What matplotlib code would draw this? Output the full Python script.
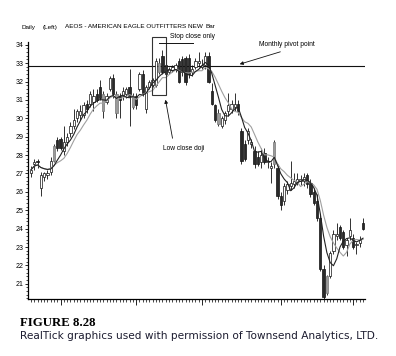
import matplotlib
matplotlib.use("Agg")
from matplotlib import pyplot as plt
from matplotlib.transforms import Affine2D
from matplotlib.ticker import MultipleLocator
import pandas as pd

# daily bars, AEOS
opens = [27.0, 27.5, 27.7, 26.2, 26.8, 26.9, 27.1, 27.7, 28.8, 28.9,
         28.2, 28.7, 29.2, 29.6, 30.0, 30.2, 30.2, 30.8, 30.8, 30.9,
         31.3, 31.7, 31.3, 30.9, 31.6, 32.2, 31.3, 31.2, 31.2, 31.3,
         31.7, 31.2, 31.2, 31.6, 32.4, 30.5, 31.7, 31.8, 31.8, 33.0,
         33.4, 32.9, 32.5, 32.6, 32.7, 33.1, 33.2, 33.3, 33.3, 32.5,
         32.8, 33.0, 32.8, 32.9, 33.4, 31.5, 30.7, 30.3, 29.6, 29.9,
         30.4, 30.5, 30.6, 30.8, 29.3, 28.6, 28.8, 28.6, 28.2, 27.9,
         27.6, 28.1, 27.6, 27.3, 27.5, 27.3, 25.8, 25.5, 26.1, 26.3,
         26.4, 26.5, 26.6, 26.6, 26.9, 26.5, 26.0, 25.5, 24.6, 21.8,
         20.5, 21.4, 22.8, 23.6, 24.1, 23.8, 23.1, 23.6, 23.5, 23.1,
         23.2, 24.3]
highs = [27.4, 27.8, 27.8, 27.1, 27.1, 27.2, 27.9, 28.6, 29.0, 29.0,
         29.6, 29.2, 29.8, 30.5, 30.5, 30.7, 30.9, 31.0, 31.5, 31.6,
         31.6, 32.1, 31.5, 31.4, 32.3, 32.4, 31.5, 31.4, 31.7, 31.7,
         32.7, 31.4, 31.4, 32.5, 32.6, 31.8, 32.1, 32.2, 33.3, 33.3,
         33.7, 33.1, 32.8, 32.9, 33.0, 33.3, 33.4, 33.4, 33.5, 32.9,
         33.3, 33.6, 33.2, 33.6, 33.6, 31.9, 30.8, 30.5, 30.1, 30.4,
         31.4, 31.0, 31.4, 31.0, 29.5, 28.8, 29.5, 28.9, 28.5, 28.2,
         28.4, 28.4, 27.9, 27.6, 28.8, 27.5, 26.0, 26.5, 26.6, 27.7,
         27.0, 27.0, 26.9, 27.0, 27.0, 26.7, 26.2, 25.9, 24.8, 22.0,
         21.5, 22.8, 23.9, 24.3, 24.2, 23.9, 23.5, 24.6, 23.7, 23.3,
         23.6, 24.6]
lows = [26.8, 27.2, 27.3, 25.8, 26.6, 26.7, 26.9, 27.6, 28.2, 28.3,
        28.0, 28.5, 29.0, 29.4, 29.8, 29.9, 30.0, 30.3, 30.6, 30.4,
        30.9, 31.0, 30.0, 30.8, 31.5, 31.1, 30.0, 30.0, 31.0, 31.1,
        29.6, 30.5, 30.5, 31.5, 31.2, 30.3, 31.6, 31.7, 31.7, 32.4,
        32.4, 32.3, 32.4, 32.5, 32.5, 31.9, 32.3, 31.8, 32.2, 32.3,
        32.7, 32.8, 32.7, 32.7, 31.9, 30.7, 29.8, 29.6, 29.5, 29.7,
        30.1, 30.3, 30.4, 30.2, 27.5, 27.7, 28.6, 28.4, 27.3, 27.4,
        27.3, 27.5, 27.3, 26.5, 27.3, 25.6, 25.0, 25.3, 25.9, 26.1,
        26.2, 26.4, 26.4, 26.3, 26.2, 25.7, 25.3, 24.4, 21.7, 20.2,
        20.4, 21.3, 22.6, 23.4, 23.4, 22.9, 22.5, 23.4, 22.9, 22.6,
        23.0, 23.9]
closes = [27.2, 27.6, 27.6, 26.9, 27.0, 27.0, 27.7, 28.5, 28.4, 28.4,
          28.7, 29.0, 29.6, 29.9, 30.4, 30.4, 30.7, 30.5, 31.3, 31.2,
          31.0, 31.1, 30.4, 31.2, 32.2, 31.3, 30.3, 31.0, 31.5, 31.6,
          31.2, 30.6, 30.7, 32.4, 31.4, 31.7, 32.0, 32.1, 33.1, 32.5,
          32.5, 32.4, 32.7, 32.8, 32.9, 32.0, 32.5, 32.0, 32.4, 32.7,
          33.1, 33.1, 32.9, 33.4, 32.0, 30.8, 29.9, 29.7, 30.0, 30.3,
          30.7, 30.8, 30.8, 30.4, 27.7, 27.8, 29.3, 28.7, 27.5, 27.5,
          28.0, 27.6, 27.7, 27.4, 28.7, 25.8, 25.3, 26.3, 26.4, 26.5,
          26.6, 26.7, 26.7, 26.8, 26.4, 25.9, 25.4, 24.6, 21.8, 20.3,
          21.4, 22.7, 23.7, 23.7, 23.5, 23.0, 23.4, 23.9, 23.0, 23.1,
          23.4, 24.0]
gray_bars = [7, 22, 26, 31, 39, 57, 74, 90]
month_starts = [9, 32, 52, 76, 98]
pivot = 32.86
y_ticks = list(range(21, 35))

W, H = 396, 356
fig = plt.figure(figsize=(W / 100, H / 100), dpi=100)
plt.rcParams['font.family'] = ['Liberation Sans', 'DejaVu Sans']
# pixel coordinates of the page (origin top left)
pix = Affine2D().scale(1 / W, -1 / H).translate(0, 1) + fig.transFigure

ax = fig.add_axes([28 / W, 1 - 298.5 / H, (365 - 28) / W, (298.5 - 42) / H])

n = len(closes)
idx = list(range(n))

# shadows
ax.vlines(idx, lows, highs, color='#111111', lw=0.6, zorder=2)

# bodies
for i in idx:
    o, c = opens[i], closes[i]
    bottom = min(o, c)
    height = max(abs(c - o), 0.06)
    if i in gray_bars:
        fc, ec = '#9a9a9a', '#777777'
    elif c >= o:
        fc, ec = 'white', '#111111'
    else:
        fc, ec = '#2a2a2a', '#111111'
    ax.bar(i, height, bottom=bottom, width=0.7, facecolor=fc,
           edgecolor=ec, lw=0.5, zorder=3)

# moving averages
s = pd.Series(closes)
ax.plot(idx, s.rolling(8, min_periods=1).mean(), color='#a0a0a0', lw=0.8, zorder=4)
ax.plot(idx, s.rolling(5, min_periods=1).mean(), color='#222222', lw=0.8, zorder=5)

# monthly pivot
ax.axhline(pivot, color='#111111', lw=0.8, zorder=1)

ax.set_xlim(-0.91, 101.6)
ax.set_ylim(20.2, 34.15)

ax.spines['right'].set_visible(False)
ax.spines['top'].set_visible(False)
ax.spines['left'].set_linewidth(0.9)
ax.spines['bottom'].set_linewidth(0.9)

ax.set_xticks(month_starts)
ax.set_xticks(idx, minor=True)
ax.set_xticklabels([])
ax.tick_params(axis='x', which='major', length=4, width=0.6, direction='out')
ax.tick_params(axis='x', which='minor', length=2, width=0.5, direction='out')

ax.set_yticks(y_ticks)
ax.yaxis.set_minor_locator(MultipleLocator(0.2))
ax.tick_params(axis='y', which='major', length=2.5, width=0.6, direction='out',
               labelsize=5, pad=0.8)
ax.tick_params(axis='y', which='minor', length=1.2, width=0.5, direction='out')

# header
fig.text(22, 27, 'Daily', transform=pix, fontsize=4.6, va='center')
fig.text(43, 27, '(Left)', transform=pix, fontsize=4.6, va='center')
fig.text(65, 27, 'AEOS - AMERICAN EAGLE OUTFITTERS NEW', transform=pix,
         fontsize=4.6, va='center')
fig.text(206, 27, 'Bar', transform=pix, fontsize=4.6, va='center')

# annotations
box = plt.Rectangle((152, 95), 14, -58, transform=pix, fill=False,
                    edgecolor='#333333', lw=0.8)
fig.add_artist(box)
fig.add_artist(plt.Line2D([159, 193], [42.5, 42.5], transform=pix,
                          color='#111111', lw=0.7))
fig.text(170, 37, 'Stop close only', transform=pix, fontsize=4.8, va='center')

fig.text(259, 44, 'Monthly pivot point', transform=pix, fontsize=4.8, va='center')
ax.annotate('', xy=(237, 65), xycoords=pix, xytext=(283, 51), textcoords=pix,
            arrowprops=dict(arrowstyle='-|>', color='#111111', lw=0.6,
                            mutation_scale=5))

fig.text(163, 148, 'Low close doji', transform=pix, fontsize=4.8, va='center')
ax.annotate('', xy=(165, 97), xycoords=pix, xytext=(173, 141), textcoords=pix,
            arrowprops=dict(arrowstyle='-|>', color='#111111', lw=0.6,
                            mutation_scale=5))

# caption
fig.text(20, 323, 'FIGURE 8.28', transform=pix, fontsize=9.3, fontweight='bold',
         family=['Liberation Serif', 'DejaVu Serif'], va='center')
fig.text(20, 336, 'RealTick graphics used with permission of Townsend Analytics, LTD.',
         transform=pix, fontsize=7.6, family=['DejaVu Sans'], color='#1c1c30',
         va='center')

fig.savefig('out.png', dpi=100)
